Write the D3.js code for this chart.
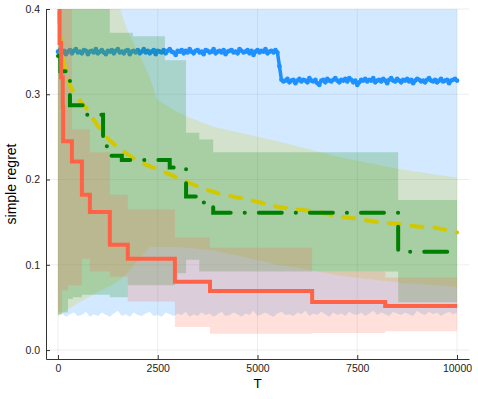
<!DOCTYPE html>
<html>
<head>
<meta charset="utf-8">
<script src="https://cdn.jsdelivr.net/npm/d3@7"></script>
<style>
  body { margin: 0; background: #fff; }
  text { font-family: "Liberation Sans", Arial, sans-serif; }
</style>
</head>
<body>
<div id="chart"></div>
<script>
// ---- data ----
const xTicks = [0, 2500, 5000, 7500, 10000];
const yTicks = [0.0, 0.1, 0.2, 0.3, 0.4];

// blue: noisy mean, one value every 50 steps of T
const blueStep = 50;
const blueMean = [
  0.350,0.352,0.349,0.351,0.347,0.350,0.352,0.348,0.351,0.353,0.349,0.350,0.348,0.352,0.351,0.347,0.350,0.351,0.349,0.353,
  0.348,0.350,0.352,0.349,0.347,0.351,0.350,0.352,0.348,0.351,0.353,0.349,0.350,0.348,0.351,0.352,0.347,0.350,0.351,0.349,
  0.352,0.348,0.350,0.353,0.349,0.351,0.348,0.350,0.352,0.347,0.351,0.350,0.349,0.352,0.348,0.351,0.353,0.350,0.349,0.346,
  0.351,0.350,0.352,0.348,0.351,0.349,0.353,0.350,0.348,0.351,0.352,0.349,0.350,0.347,0.352,0.351,0.349,0.350,0.353,0.348,
  0.350,0.351,0.349,0.352,0.347,0.350,0.351,0.352,0.349,0.350,0.348,0.353,0.351,0.349,0.350,0.352,0.348,0.351,0.346,0.350,
  0.352,0.349,0.351,0.350,0.353,0.348,0.350,0.351,0.349,0.352,0.349,
  0.333,
  0.317,0.315,0.316,0.318,0.314,0.316,0.317,0.313,0.316,0.318,0.315,0.317,0.316,0.314,0.319,0.316,0.315,0.317,0.313,0.311,
  0.316,0.317,0.314,0.318,0.316,0.315,0.317,0.319,0.316,0.314,0.317,0.316,0.318,0.315,0.319,0.317,0.314,0.316,0.311,0.314,
  0.317,0.316,0.318,0.315,0.317,0.316,0.319,0.314,0.316,0.317,0.315,0.318,0.316,0.313,0.317,0.319,0.316,0.315,0.318,0.316,
  0.314,0.317,0.316,0.318,0.315,0.317,0.313,0.316,0.318,0.317,0.315,0.316,0.314,0.317,0.319,0.316,0.315,0.317,0.314,0.316,
  0.318,0.315,0.316,0.317,0.313,0.316,0.317,0.318,0.316
];
// blue band: lower edge every 100 steps, upper edge is off the top
const blueBandStep = 100;
const blueBandHi = 0.45;
const blueBandLo = [
  0.040,0.043,0.039,0.042,0.044,0.040,0.041,0.045,0.039,0.042,
  0.040,0.044,0.041,0.039,0.043,0.046,0.040,0.042,0.039,0.044,
  0.041,0.040,0.043,0.045,0.040,0.041,0.039,0.044,0.042,0.040,
  0.043,0.041,0.045,0.039,0.042,0.040,0.044,0.041,0.043,0.039,
  0.042,0.045,0.040,0.041,0.044,0.042,0.039,0.043,0.041,0.046,
  0.040,0.042,0.044,0.041,0.039,0.043,0.045,0.041,0.042,0.040,
  0.044,0.042,0.046,0.040,0.043,0.041,0.045,0.042,0.039,0.044,
  0.041,0.043,0.040,0.045,0.042,0.041,0.044,0.040,0.043,0.046,
  0.041,0.044,0.042,0.040,0.045,0.043,0.041,0.044,0.042,0.040,
  0.046,0.043,0.041,0.045,0.042,0.044,0.040,0.043,0.045,0.042,
  0.044
];

// yellow: smooth dashed mean
const yellowT = [0, 50, 100, 250, 500, 750, 1000, 1250, 1500, 2000, 2500, 3000, 3500, 4000, 4500, 5000, 5500, 6000, 6500, 7000, 7500, 8000, 8500, 9000, 9500, 10000];
const yellowMean = [0.45, 0.375, 0.352, 0.318, 0.296, 0.281, 0.263, 0.248, 0.238, 0.222, 0.212, 0.202, 0.192, 0.184, 0.179, 0.174, 0.168, 0.165, 0.162, 0.157, 0.154, 0.150, 0.148, 0.145, 0.143, 0.138];
const yellowBandT  = [0, 500, 1000, 1300, 1555, 1730, 2056, 2300, 2482, 3000, 3235, 3887, 4564, 5500, 6068, 7071, 8576, 10000];
const yellowBandHi = [0.45, 0.45, 0.45, 0.43, 0.40, 0.376, 0.345, 0.32, 0.294, 0.279, 0.274, 0.262, 0.255, 0.245, 0.238, 0.226, 0.212, 0.202];
const yellowBandLo = [0.04, 0.055, 0.068, 0.075, 0.082, 0.09, 0.108, 0.121, 0.121, 0.121, 0.12, 0.117, 0.11, 0.10, 0.096, 0.087, 0.079, 0.074];

// green: dash-dot steps
const greenT    = [0, 60, 300, 730, 1130, 1330, 1600, 2800, 3210, 3485, 3890, 8525, 10000];
const greenMean = [0.345, 0.327, 0.287, 0.276, 0.239, 0.228, 0.223, 0.214, 0.180, 0.173, 0.161, 0.1153, 0.1153];
const greenBandT  = [0, 100, 250, 370, 600, 1300, 1750, 1880, 2680, 2930, 3210, 3540, 3890, 8525, 10000];
const greenBandHi = [0.45, 0.45, 0.45, 0.45, 0.45, 0.372, 0.372, 0.368, 0.34, 0.34, 0.255, 0.247, 0.232, 0.176, 0.176];
const greenBandLo = [0.042, 0.044, 0.06, 0.062, 0.065, 0.062, 0.076, 0.076, 0.076, 0.09, 0.106, 0.092, 0.092, 0.056, 0.056];

// red: solid steps
const redT    = [0, 40, 80, 120, 130, 350, 600, 800, 1300, 1750, 2930, 3810, 6370, 8200, 10000];
const redMean = [0.45, 0.36, 0.32, 0.285, 0.245, 0.221, 0.182, 0.162, 0.1235, 0.107, 0.080, 0.0694, 0.0565, 0.0518, 0.0518];
const redBandT  = [0, 100, 250, 350, 600, 800, 1300, 1750, 2930, 3810, 6370, 8200, 10000];
const redBandHi = [0.45, 0.45, 0.45, 0.259, 0.259, 0.232, 0.182, 0.165, 0.132, 0.12, 0.092, 0.085, 0.085];
const redBandLo = [0.045, 0.07, 0.076, 0.076, 0.107, 0.092, 0.086, 0.057, 0.027, 0.019, 0.020, 0.022, 0.022];

const colors = {blue: "#1e90ff", yellow: "#d2c800", green: "#008000", red: "#ff6347"};

// ---- layout ----
const width = 478, height = 399;
const margin = {top: 9, right: 9, bottom: 40, left: 46};

const svg = d3.select("#chart").append("svg")
    .attr("width", width)
    .attr("height", height);

const x = d3.scaleLinear().domain([-300, 10300]).range([margin.left, width - margin.right]);
const y = d3.scaleLinear().domain([-0.0105, 0.4]).range([height - margin.bottom, margin.top]);

svg.append("clipPath").attr("id", "plotclip")
  .append("rect")
    .attr("x", margin.left).attr("y", margin.top)
    .attr("width", width - margin.left - margin.right)
    .attr("height", height - margin.top - margin.bottom);

// grid
const grid = svg.append("g").attr("stroke", "#000").attr("stroke-opacity", 0.1).attr("stroke-width", 0.7);
grid.selectAll("line.gx").data(xTicks).join("line")
    .attr("x1", d => x(d)).attr("x2", d => x(d))
    .attr("y1", margin.top).attr("y2", height - margin.bottom);
grid.selectAll("line.gy").data(yTicks).join("line")
    .attr("x1", margin.left).attr("x2", width - margin.right)
    .attr("y1", d => y(d)).attr("y2", d => y(d));

const plot = svg.append("g").attr("clip-path", "url(#plotclip)");

const zip = (ts, a, b) => ts.map((t, i) => ({t: t, lo: a[i], hi: b === undefined ? undefined : b[i]}));

const bandStep = d3.area().x(d => x(d.t)).y0(d => y(d.lo)).y1(d => y(d.hi)).curve(d3.curveStepAfter);
const bandSmooth = d3.area().x(d => x(d.t)).y0(d => y(d.lo)).y1(d => y(d.hi));
const lineStep = d3.line().x(d => x(d.t)).y(d => y(d.lo)).curve(d3.curveStepAfter);
const lineSmooth = d3.line().x(d => x(d.t)).y(d => y(d.lo)).curve(d3.curveMonotoneX);
const lineRaw = d3.line().x(d => x(d.t)).y(d => y(d.lo));

// blue band + line first, later bands sit over the blue line
const blueBand = blueBandLo.map((v, i) => ({t: i * blueBandStep, lo: v, hi: blueBandHi}));
plot.append("path").datum(blueBand)
    .attr("d", bandSmooth)
    .attr("fill", colors.blue).attr("fill-opacity", 0.2);

const blueLine = blueMean.map((v, i) => ({t: i * blueStep, lo: v}));
plot.append("path").datum(blueLine)
    .attr("d", lineRaw)
    .attr("fill", "none")
    .attr("stroke", colors.blue).attr("stroke-width", 3.5)
    .attr("stroke-linejoin", "round").attr("stroke-linecap", "round");
plot.append("g").selectAll("circle")
    .data(blueLine)
    .join("circle")
    .attr("cx", d => x(d.t))
    .attr("cy", d => y(d.lo))
    .attr("r", 2.3)
    .attr("fill", colors.blue);

plot.append("path").datum(zip(yellowBandT, yellowBandLo, yellowBandHi))
    .attr("d", bandSmooth)
    .attr("fill", colors.yellow).attr("fill-opacity", 0.2);

plot.append("path").datum(zip(greenBandT, greenBandLo, greenBandHi))
    .attr("d", bandStep)
    .attr("fill", colors.green).attr("fill-opacity", 0.2);

plot.append("path").datum(zip(redBandT, redBandLo, redBandHi))
    .attr("d", bandStep)
    .attr("fill", colors.red).attr("fill-opacity", 0.2);

// mean lines
plot.append("path").datum(zip(yellowT, yellowMean))
    .attr("d", lineSmooth)
    .attr("fill", "none")
    .attr("stroke", colors.yellow).attr("stroke-width", 4)
    .attr("stroke-linecap", "round")
    .attr("stroke-dasharray", "11,12");

plot.append("path").datum(zip(greenT, greenMean))
    .attr("d", lineStep)
    .attr("fill", "none")
    .attr("stroke", colors.green).attr("stroke-width", 4)
    .attr("stroke-linecap", "round")
    .attr("stroke-dasharray", "23,14,0.1,14");

plot.append("path").datum(zip(redT, redMean))
    .attr("d", lineStep)
    .attr("fill", "none")
    .attr("stroke", colors.red).attr("stroke-width", 4)
    .attr("stroke-linejoin", "miter");

// axes
const xAxis = d3.axisBottom(x).tickValues(xTicks).tickFormat(d3.format("d"))
    .tickSize(-4).tickSizeOuter(0).tickPadding(6);
const yAxis = d3.axisLeft(y).tickValues(yTicks).tickFormat(d3.format(".1f"))
    .tickSize(-4).tickSizeOuter(0).tickPadding(6);

svg.append("g")
    .attr("transform", `translate(0,${height - margin.bottom})`)
    .call(xAxis)
    .call(g => g.selectAll("text").attr("font-size", "10.5px").attr("fill", "#222").attr("font-family", "Liberation Sans, Arial, sans-serif"))
    .call(g => g.selectAll("line, path").attr("stroke", "#333"));

svg.append("g")
    .attr("transform", `translate(${margin.left},0)`)
    .call(yAxis)
    .call(g => g.selectAll("text").attr("font-size", "10.5px").attr("fill", "#222").attr("font-family", "Liberation Sans, Arial, sans-serif"))
    .call(g => g.selectAll("line, path").attr("stroke", "#333"));

// axis titles
svg.append("text")
    .attr("x", x(5000)).attr("y", 388)
    .attr("text-anchor", "middle")
    .attr("font-size", "13.5px")
    .text("T");

svg.append("text")
    .attr("transform", `translate(16,${(margin.top + height - margin.bottom) / 2}) rotate(-90)`)
    .attr("text-anchor", "middle")
    .attr("font-size", "14px")
    .text("simple regret");
</script>
</body>
</html>
